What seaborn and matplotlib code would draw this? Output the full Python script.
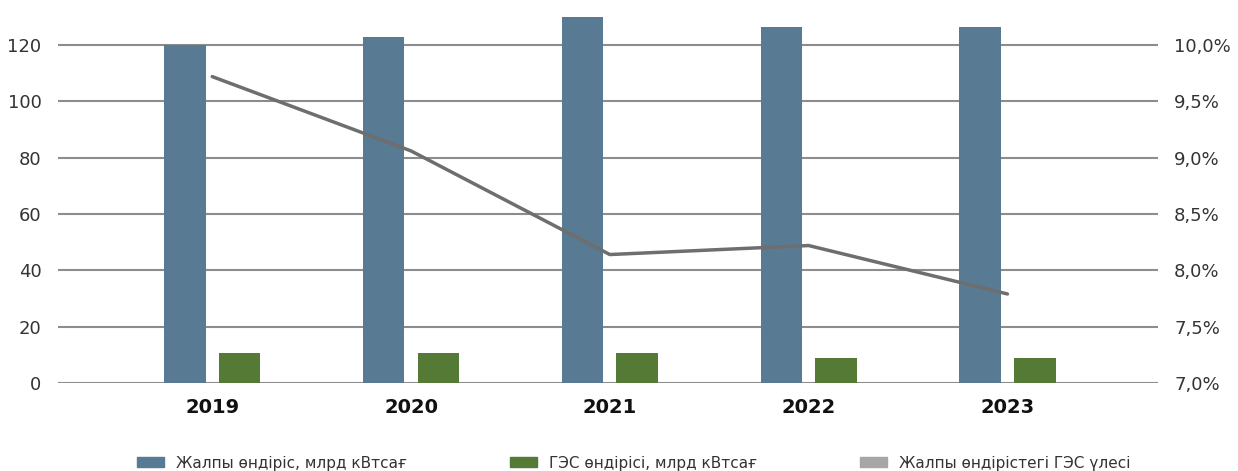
import pandas as pd
import matplotlib.pyplot as plt
import matplotlib.patches as mpatches
from matplotlib.ticker import FuncFormatter
import seaborn as sns

# Data
years = ['2019', '2020', '2021', '2022', '2023']
total_gen = [120.0, 122.8, 130.0, 126.4, 126.4]   # млрд кВтсағ
hydro_gen = [10.8, 10.8, 10.8, 8.9, 8.9]          # млрд кВтсағ
hydro_share = [9.72, 9.06, 8.14, 8.22, 7.79]      # %

label_total = 'Жалпы өндіріс, млрд кВтсағ'
label_hydro = 'ГЭС өндірісі, млрд кВтсағ'
label_share = 'Жалпы өндірістегі ГЭС үлесі'

c_total = '#587a92'
c_hydro = '#557a35'
c_line = '#6e6e6e'
c_share = '#a6a6a6'
c_grid = '#8c8c8c'
c_text = '#333333'

sns.set_theme(style='white')
plt.rcParams['font.family'] = ['DejaVu Sans']

df = pd.DataFrame({'Year': years * 2,
                   'Value': total_gen + hydro_gen,
                   'Series': [label_total] * 5 + [label_hydro] * 5})

fig = plt.figure(figsize=(12.38, 4.71), dpi=100)
ax = fig.add_axes([0.047, 0.187, 0.888, 0.795])

sns.barplot(data=df, x='Year', y='Value', hue='Series',
            palette=[c_total, c_hydro], width=0.55, gap=0.24,
            saturation=1, linewidth=0, ax=ax, legend=False, zorder=3)
ax.set_xlim(-0.775, 4.755)
ax.set_ylim(0, 133)
ax.set_yticks(range(0, 121, 20))
ax.grid(axis='y', color=c_grid, linewidth=1.5, zorder=0)
ax.set_axisbelow(True)
ax.set_xlabel('')
ax.set_ylabel('')
sns.despine(ax=ax, left=True, bottom=True, top=True, right=True)
ax.tick_params(axis='y', length=0, pad=12, labelsize=13, labelcolor=c_text)
ax.tick_params(axis='x', length=0, pad=11, labelsize=14)
for t in ax.get_xticklabels():
    t.set_fontweight('bold')
    t.set_color('#111111')

# Share on secondary axis
ax2 = ax.twinx()
sns.lineplot(x=list(range(len(years))), y=hydro_share, color=c_line,
             linewidth=2.5, ax=ax2, zorder=4)
ax2.set_ylim(7.0, 7.0 + 133 / 120 * 3.0)
ax2.set_yticks([7.0, 7.5, 8.0, 8.5, 9.0, 9.5, 10.0])
ax2.yaxis.set_major_formatter(FuncFormatter(lambda v, p: f'{v:.1f}%'.replace('.', ',')))
ax2.tick_params(axis='y', length=0, pad=12, labelsize=13, labelcolor=c_text)
ax2.grid(False)
for s in ax2.spines.values():
    s.set_visible(False)

handles = [mpatches.Patch(color=c_total, label=label_total),
           mpatches.Patch(color=c_hydro, label=label_hydro),
           mpatches.Patch(color=c_share, label=label_share)]
fig.legend(handles=handles, loc='center', bbox_to_anchor=(0.512, 0.017),
           ncol=3, frameon=False, fontsize=11, handlelength=1.8,
           handleheight=0.6, columnspacing=6.7, labelcolor=c_text)

fig.savefig('out.png', dpi=100)
